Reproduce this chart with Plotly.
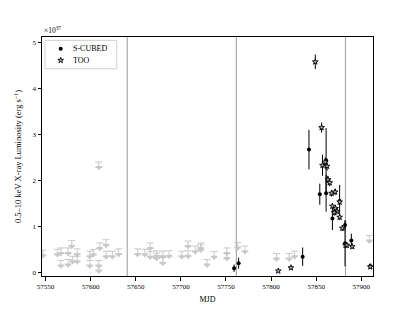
import plotly.graph_objects as go

# Gray upper limits (MJD, luminosity in 1e37 erg/s)
ul_mjd = [57547, 57563, 57567, 57567, 57575, 57575, 57579, 57580, 57585, 57585,
          57599, 57599, 57603, 57609, 57609, 57609, 57610, 57617, 57617, 57624,
          57631, 57652, 57660, 57666, 57666, 57673, 57673, 57680, 57680, 57687,
          57701, 57708, 57708, 57716, 57722, 57722, 57729, 57737, 57751, 57751,
          57763, 57771, 57806, 57820, 57826, 57909]
ul_lum = [0.36, 0.38, 0.41, 0.14, 0.16, 0.41, 0.57, 0.23, 0.23, 0.39,
          0.34, 0.14, 0.38, 2.28, 0.14, 0.03, 0.52, 0.59, 0.34, 0.34,
          0.39, 0.39, 0.38, 0.52, 0.33, 0.35, 0.30, 0.20, 0.34, 0.35,
          0.34, 0.56, 0.35, 0.45, 0.52, 0.48, 0.16, 0.33, 0.41, 0.30,
          0.53, 0.45, 0.29, 0.29, 0.34, 0.68]
ul_arrow = 0.12

# S-CUBED detections
sc_mjd = [57759, 57764, 57835, 57842, 57854, 57861, 57861, 57868, 57876, 57882, 57882, 57889, 57910]
sc_lum = [0.09, 0.20, 0.34, 2.67, 1.70, 2.44, 1.72, 1.17, 1.55, 1.03, 0.63, 0.69, 0.14]
sc_err = [0.08, 0.12, 0.20, 0.43, 0.23, 0.70, 0.40, 0.25, 0.35, 0.10, 0.50, 0.15, 0.05]

# TOO detections
too_mjd = [57808, 57822, 57849, 57856, 57857, 57860, 57862, 57863, 57865, 57867, 57871,
           57868, 57871.5, 57873, 57870, 57876, 57876, 57879, 57882.5, 57884, 57890, 57910]
too_lum = [0.03, 0.10, 4.58, 3.15, 2.33, 2.40, 2.31, 2.02, 1.95, 1.72, 1.75,
           1.44, 1.39, 1.33, 1.30, 1.53, 1.20, 0.96, 0.59, 0.59, 0.56, 0.12]
too_err = [0.03, 0.04, 0.16, 0.11, 0.23, 0.10, 0.10, 0.08, 0.08, 0.07, 0.07,
           0.07, 0.07, 0.07, 0.07, 0.07, 0.06, 0.06, 0.05, 0.05, 0.05, 0.04]

# Season boundaries
boundaries = [57640.5, 57761.5, 57882.5]

x_ticks = [57550, 57600, 57650, 57700, 57750, 57800, 57850, 57900]
y_ticks = [0, 1, 2, 3, 4, 5]

legend_labels = ["S-CUBED", "TOO"]

FONT = "Liberation Serif"
GRAY = "#c8c8c8"

SC_MARKER = dict(symbol="circle", size=4, color="black")
TOO_MARKER = dict(symbol="star", size=4.3, color="#b8b8b8", line=dict(color="black", width=0.9))

fig = go.Figure()

fig.add_trace(go.Scatter(
    x=ul_mjd, y=ul_lum, mode="markers", showlegend=False,
    marker=dict(symbol="triangle-down", size=6, color=GRAY),
    error_y=dict(type="data", symmetric=False, array=[ul_arrow] * len(ul_lum),
                 arrayminus=[0] * len(ul_lum), color=GRAY, thickness=1, width=3.5),
))

fig.add_trace(go.Scatter(
    x=sc_mjd, y=sc_lum, mode="markers", name="S-CUBED", showlegend=False,
    marker=SC_MARKER,
    error_y=dict(type="data", array=sc_err, color="black", thickness=1, width=0),
))

fig.add_trace(go.Scatter(
    x=too_mjd, y=too_lum, mode="markers", name="TOO", showlegend=False,
    marker=TOO_MARKER,
    error_y=dict(type="data", array=too_err, color="black", thickness=1, width=0),
))

for b in boundaries:
    fig.add_vline(x=b, line=dict(color="#aaaaaa", width=1.2), layer="below")

# Compact legend (matplotlib-like) drawn on an overlay axis spanning the plot area
leg_x_marker = 0.0565
leg_x_text = 0.087
leg_rows = [0.951, 0.9025]
fig.add_trace(go.Scatter(x=[leg_x_marker], y=[leg_rows[0]], xaxis="x2", yaxis="y2",
                         mode="markers", marker=SC_MARKER, showlegend=False, hoverinfo="skip"))
fig.add_trace(go.Scatter(x=[leg_x_marker], y=[leg_rows[1]], xaxis="x2", yaxis="y2",
                         mode="markers", marker=TOO_MARKER, showlegend=False, hoverinfo="skip"))
for lab, ry in zip(legend_labels, leg_rows):
    fig.add_annotation(x=leg_x_text, y=ry, xref="paper", yref="paper", xanchor="left",
                       yanchor="middle", text=lab, showarrow=False,
                       font=dict(family=FONT, size=8, color="black"))
fig.add_shape(type="rect", xref="paper", yref="paper", x0=0.009, x1=0.2257, y0=0.867, y1=0.986,
              line=dict(color="#d0d0d0", width=1), fillcolor="rgba(255,255,255,0.8)", layer="below")

axis_common = dict(showline=True, mirror=True, linecolor="black", linewidth=1,
                   ticks="outside", ticklen=3.5, tickcolor="black", showgrid=False,
                   zeroline=False, automargin=False,
                   tickfont=dict(family=FONT, size=7, color="black"))

fig.update_layout(
    xaxis=dict(range=[57546, 57913], tickvals=x_ticks, ticktext=[str(v) for v in x_ticks],
               title=dict(text="MJD", font=dict(family=FONT, size=8, color="black"), standoff=6),
               **axis_common),
    yaxis=dict(range=[-0.08, 5.12], tickvals=y_ticks, ticktext=[str(v) for v in y_ticks],
               title=dict(text="0.5\u201310 keV X-ray Luminosity (erg s<sup>\u22121</sup>)",
                          font=dict(family=FONT, size=8.5, color="black"), standoff=9),
               **axis_common),
    xaxis2=dict(overlaying="x", range=[0, 1], visible=False, fixedrange=True),
    yaxis2=dict(overlaying="y", range=[0, 1], visible=False, fixedrange=True),
    width=415, height=311,
    margin=dict(l=42, r=42, t=37, b=35),
    paper_bgcolor="white", plot_bgcolor="white",
    showlegend=False,
)

fig.add_annotation(x=0, y=1, xref="paper", yref="paper", xanchor="left", yanchor="bottom",
                   text="\u00d710<sup>37</sup>", showarrow=False, yshift=0,
                   font=dict(family=FONT, size=7.5, color="black"))

fig.write_html("out.html", config={"displayModeBar": False},
               post_script="document.body.style.margin='0';")
